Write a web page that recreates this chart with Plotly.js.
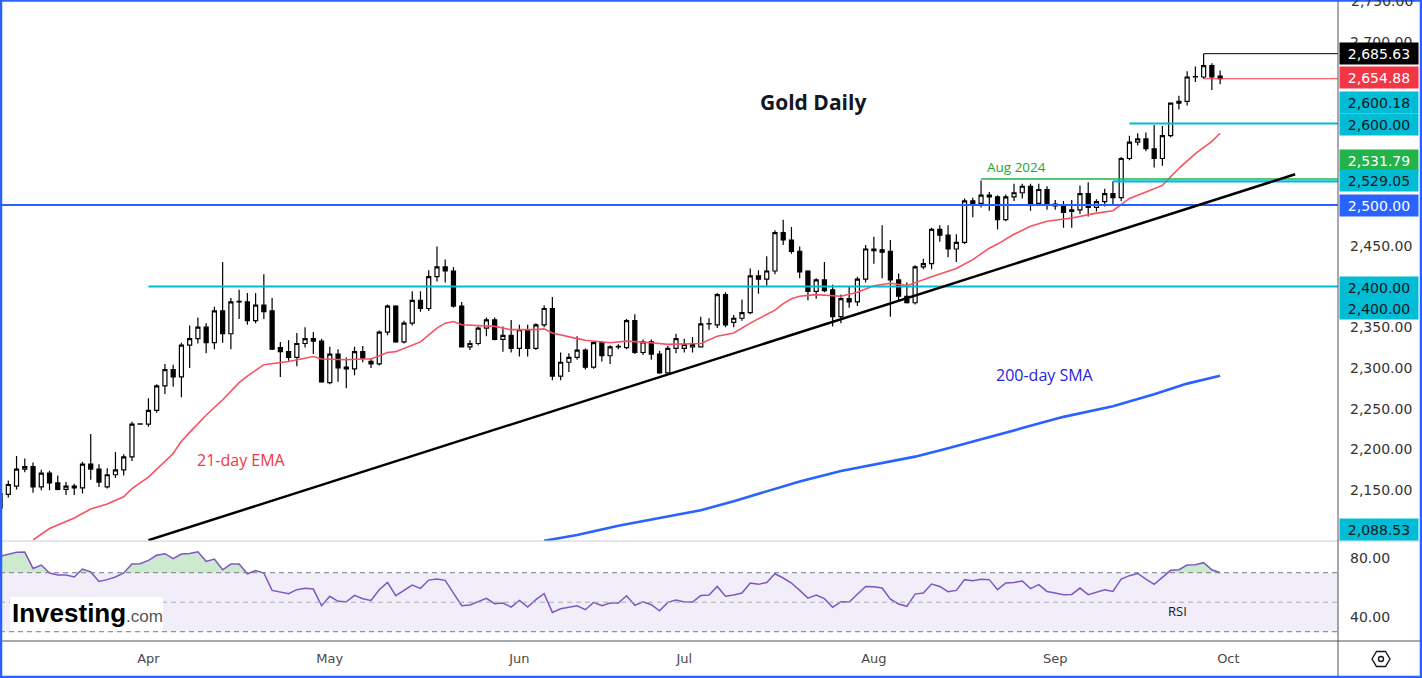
<!DOCTYPE html>
<html><head><meta charset="utf-8">
<script src="https://cdn.plot.ly/plotly-3.0.1.min.js"></script>
<style>html,body{margin:0;padding:0;background:#fff;}#chart{width:1422px;height:678px;}</style>
</head><body><div id="chart"></div>
<script>
// ---------- DATA ----------
const candleDates = ['03-06','03-07','03-08','03-11','03-12','03-13','03-14','03-15','03-18','03-19','03-20','03-21','03-22','03-25','03-26','03-27','03-28','03-29',
'04-01','04-02','04-03','04-04','04-05','04-08','04-09','04-10','04-11','04-12','04-15','04-16','04-17','04-18','04-19','04-22','04-23','04-24','04-25','04-26','04-29','04-30',
'05-01','05-02','05-03','05-06','05-07','05-08','05-09','05-10','05-13','05-14','05-15','05-16','05-17','05-20','05-21','05-22','05-23','05-24','05-27','05-28','05-29','05-30','05-31',
'06-03','06-04','06-05','06-06','06-07','06-10','06-11','06-12','06-13','06-14','06-17','06-18','06-19','06-20','06-21','06-24','06-25','06-26','06-27','06-28',
'07-01','07-02','07-03','07-04','07-05','07-08','07-09','07-10','07-11','07-12','07-15','07-16','07-17','07-18','07-19','07-22','07-23','07-24','07-25','07-26','07-29','07-30','07-31',
'08-01','08-02','08-05','08-06','08-07','08-08','08-09','08-12','08-13','08-14','08-15','08-16','08-19','08-20','08-21','08-22','08-23','08-26','08-27','08-28','08-29','08-30',
'09-02','09-03','09-04','09-05','09-06','09-09','09-10','09-11','09-12','09-13','09-16','09-17','09-18','09-19','09-20','09-23','09-24','09-25','09-26','09-27','09-30'];

const openP = [2128,2145,2155,2176,2179,2154,2171,2159,2151,2155,2153,2182,2176,2154,2169,2175,2191,2231,
2231,2248,2278,2298,2289,2328,2336,2350,2331,2370,2342,2381,2381,2358,2377,2370,2325,2320,2313,2330,2336,2333,
2282,2317,2301,2299,2320,2308,2305,2344,2376,2332,2355,2383,2373,2412,2424,2419,2376,2326,2330,2349,2359,2335,2340,
2324,2347,2324,2353,2373,2290,2307,2313,2322,2301,2331,2315,2326,2325,2358,2319,2332,2317,2294,2324,
2324,2326,2326,2354,2353,2390,2356,2361,2368,2413,2409,2419,2466,2457,2443,2419,2394,2408,2396,2363,2385,2381,2409,
2446,2445,2443,2408,2388,2380,2424,2428,2470,2463,2446,2454,2505,2502,2512,2510,2482,2510,2515,2523,2502,2519,
2499,2498,2492,2494,2514,2497,2504,2514,2509,2557,2577,2581,2569,2557,2585,2625,2627,2657,2657,2671,2658];

const highP = [2152,2162,2192,2189,2184,2175,2174,2168,2160,2158,2185,2219,2182,2177,2197,2194,2234,2231.8,
2263,2280,2305,2304,2331,2352,2362,2355,2375,2430,2386,2396,2392,2392,2415,2386,2332,2334,2343,2350,2344,2336,
2326,2323,2313,2326,2327,2312,2346,2378,2377,2358,2394,2394,2420,2449,2433,2424,2381,2334,2351,2362,2362,2351,2359,
2353,2353,2355,2377,2387,2319,2318,2339,2324,2333,2333,2328,2329,2360,2366,2335,2335,2321,2327,2342,
2336,2338,2363,2361,2392,2393,2365,2384,2422,2420,2437,2469,2482,2473,2449,2420,2410,2430,2402,2390,2400,2412,2451,
2461,2475,2457,2416,2405,2426,2434,2472,2475,2475,2464,2508,2509,2530,2516,2512,2513,2526,2526,2526,2526,2523,
2506,2505,2506,2524,2528,2507,2520,2529,2559,2585,2588,2589,2598,2597,2625,2634,2664,2670,2685.63,2674,2665];

const lowP = [2124,2141,2151,2172,2147,2150,2150,2150,2144,2144,2146,2163,2154,2152,2165,2168,2186,2230.6,
2228,2245,2268,2277,2264,2300,2330,2318,2323,2331,2323,2360,2353,2355,2360,2322,2289,2309,2302,2325,2317,2282,
2280,2283,2275,2291,2307,2300,2303,2340,2331,2330,2352,2369,2370,2406,2405,2374,2326,2322,2328,2339,2334,2320,2319,
2314,2314,2322,2350,2285,2285,2295,2310,2298,2299,2308,2305,2323,2323,2317,2316,2310,2293,2293,2318,
2319,2319,2325,2347,2349,2350,2350,2358,2366,2391,2401,2415,2451,2440,2410,2383,2385,2393,2351,2355,2374,2376,2405,
2428,2410,2363,2383,2379,2378,2421,2421,2455,2436,2430,2452,2485,2497,2493,2470,2480,2505,2508,2493,2500,2494,
2494,2472,2472,2489,2486,2492,2498,2500,2505,2555,2573,2566,2546,2548,2583,2617,2622,2651,2655,2641,2648];

const closeP = [2146,2157,2176,2179,2154,2171,2159,2151,2155,2153,2182,2176,2160,2169,2175,2191,2231,2231.3,
2248,2278,2298,2289,2328,2336,2350,2331,2370,2342,2381,2381.6,2358,2377,2369,2323,2320,2313,2330,2336,2333,2283,
2317,2300,2299,2320,2312,2305,2344,2376,2332,2355,2383,2373,2412,2424,2419,2376,2326,2330,2349,2359,2335,2340,2324,
2347,2324,2353,2373,2290,2307,2313,2322,2301,2331,2315,2326,2326.6,2358,2319,2332,2317,2294,2324,2336,
2329,2329,2354,2354.6,2390,2353,2361,2368,2413,2409,2419,2466,2457,2443,2418,2394,2408,2395,2363,2385,2381,2409,2446,
2444,2442,2408,2388,2380,2424,2428,2470,2463,2446,2454,2505,2502,2512,2510,2482,2510,2515,2523,2502,2519,2502,
2501,2491,2494,2514,2497,2504,2514,2509,2557,2577,2581,2569,2557,2585,2625,2627,2657,2657.6,2671,2657,2654.88];

const rsiValues = [81.1,82.5,83.8,84.0,72.9,75.2,69.8,68.4,68.4,67.1,72.5,70.5,64.1,65.3,67.1,69.8,75.9,76.1,
78.4,81.8,82.9,79.5,82.7,83.1,84.2,77.7,79.3,72.0,75.9,75.9,69.3,71.4,69.8,58.0,57.1,55.8,58.5,59.4,58.9,47.6,
54.0,50.6,50.3,54.6,52.4,51.2,58.5,63.4,54.4,58.0,61.6,59.4,65.0,65.7,64.8,56.2,47.6,48.1,50.6,52.6,49.0,49.4,46.7,
51.2,46.7,51.7,55.8,43.1,45.6,46.5,47.6,44.9,49.9,47.6,49.4,49.4,54.4,47.9,50.3,48.3,44.2,49.9,51.5,
50.1,50.1,54.5,54.9,60.7,54.0,54.9,56.2,63.0,62.1,63.4,69.3,66.4,63.0,58.0,52.8,54.9,52.4,46.5,50.3,50.1,55.5,60.7,
60.5,59.6,52.1,48.8,47.2,55.5,56.2,62.3,60.7,57.1,58.0,65.3,64.6,65.5,65.3,58.5,63.0,63.4,64.4,59.2,61.9,57.3,
56.2,55.1,55.3,59.6,55.1,56.9,58.5,57.3,65.7,68.0,69.5,65.7,62.1,66.8,71.6,72.0,75.2,75.4,76.8,72.0,70.0];

const emaDates = ['03-12','03-14','03-19','03-21','03-25','03-27','03-28','04-01','04-04','04-05','04-08','04-10','04-12','04-16','04-17','04-19','04-24','04-29','04-30','05-03','05-07','05-08','05-10','05-13','05-16','05-20','05-21','05-22','05-23','05-28','05-29','05-31','06-05','06-06','06-07','06-12','06-13','06-18','06-20','06-25','06-27','07-03','07-05','07-09','07-11','07-16','07-17','07-18','07-19','07-23','07-26','07-30','08-01','08-05','08-07','08-12','08-15','08-19','08-21','08-22','08-26','08-28','08-30','09-04','09-09','09-11','09-13','09-17','09-19','09-23','09-25','09-27','09-30'];
const emaValues = [2089,2103,2116,2127,2133,2142,2152,2166,2195,2210,2221,2242,2261,2282,2290,2304,2308,2314,2311,2310,2311,2311,2319,2320,2332,2349,2355,2357,2353,2351,2351,2347,2347,2348,2343,2336,2334,2331,2333,2331,2329,2330,2339,2343,2355,2371,2379,2385,2388,2390,2388,2393,2401,2404,2401,2412,2422,2433,2447,2452,2464,2474,2480,2484,2490,2493,2508,2516,2524,2545,2563,2578,2588];

const smaDates = ['06-06','06-12','06-19','06-26','07-03','07-09','07-15','07-19','07-26','08-05','08-08','08-14','08-19','08-27','09-03','09-11','09-18','09-24','09-30'];
const smaValues = [2088,2095,2106.5,2115.5,2125.4,2136.5,2148.2,2160.8,2173.6,2185.5,2191.2,2201.5,2210,2226.2,2240,2253,2267.7,2280.8,2290.6];

const monthTickDates = ['04-01','05-01','06-03','07-01','08-01','09-02','10-01'];
const monthLabels = ['Apr','May','Jun','Jul','Aug','Sep','Oct'];

// price-axis tick values left visible (others sit under the price tags)
const priceTicks = [2150, 2200, 2250, 2300, 2350, 2450, 2700];
const edgeTick = 2750; // partly cut at the top edge

// horizontal levels drawn on the chart
const levelPrices = [2400, 2500, 2600, 2531.79, 2529.05, 2685.63, 2654.88];
const levelStarts = ['04-01','03-05','09-13','08-20','09-11','09-26','09-26'];
// trend line (support)
const trendDates = ['2024-04-01', '2024-10-11 02:24'];
const trendPrices = [2088.7, 2537.7];

// right-axis price tags
const tagValues = [2685.63, 2654.88, 2600.18, 2600.00, 2531.79, 2529.05, 2500.00, 2400.00, 2400.00, 2088.53];

// ---------- STYLE / LAYOUT ----------
const W = 1338, H = 641;
const px = v => v / W;
const py = v => (H - v) / H;
const full = a => a.map(d => d.length > 5 ? d : '2024-' + d);
const X_START = '2024-03-05 23:50', X_END = '2024-10-18 07:12';
const AX_FONT = 'DejaVu Sans';
const fmt = v => v.toLocaleString('en-US', {minimumFractionDigits:2, maximumFractionDigits:2});

const traces = [];
traces.push({type:'candlestick', x: full(candleDates), open: openP, high: highP, low: lowP, close: closeP,
  xaxis:'x', yaxis:'y', whiskerwidth:0, hoverinfo:'skip',
  increasing:{line:{color:'#000000', width:1.2}, fillcolor:'#ffffff'},
  decreasing:{line:{color:'#000000', width:1.2}, fillcolor:'#000000'}});
traces.push({type:'scatter', mode:'lines', x: full(emaDates), y: emaValues, yaxis:'y', line:{color:'#f7525f', width:1.6}, hoverinfo:'skip'});
traces.push({type:'scatter', mode:'lines', x: full(smaDates), y: smaValues, yaxis:'y', line:{color:'#2962ff', width:2.6}, hoverinfo:'skip'});
const rsiX = full(candleDates);
traces.push({type:'scatter', mode:'lines', x: rsiX, y: rsiX.map(() => 70), yaxis:'y2', line:{width:0, color:'rgba(0,0,0,0)'}, hoverinfo:'skip'});
traces.push({type:'scatter', mode:'lines', x: rsiX, y: rsiValues.map(v => Math.max(v, 70)), yaxis:'y2', fill:'tonexty', fillcolor:'rgba(76,175,80,0.28)', line:{width:0, color:'rgba(0,0,0,0)'}, hoverinfo:'skip'});
traces.push({type:'scatter', mode:'lines', x: rsiX, y: rsiValues, yaxis:'y2', line:{color:'#7e57c2', width:1.5}, hoverinfo:'skip'});

const shapes = [];
shapes.push({type:'rect', xref:'paper', yref:'y2', x0:0, x1:1, y0:30, y1:70, fillcolor:'rgba(126,87,194,0.10)', line:{width:0}, layer:'below'});
[[70,'#787b86'],[50,'#a8abb4'],[30,'#787b86']].forEach(([v,c]) => shapes.push({type:'line', xref:'paper', yref:'y2', x0:0, x1:1, y0:v, y1:v, line:{color:c, width:1, dash:'5px,4px'}}));

const levelStyles = [
  {color:'#00bcd4', width:2}, {color:'#2962ff', width:2}, {color:'#00bcd4', width:2},
  {color:'#22b34a', width:1.5}, {color:'#00bcd4', width:2.2}, {color:'#000000', width:1}, {color:'#f23645', width:1}];
levelPrices.forEach((p, i) => {
  shapes.push({type:'line', xref:'x', yref:'y', x0:'2024-' + levelStarts[i], x1: X_END, y0:p, y1:p, line: levelStyles[i]});
});
shapes.push({type:'line', xref:'x', yref:'y', x0:trendDates[0], x1:trendDates[1], y0:trendPrices[0], y1:trendPrices[1], line:{color:'#000000', width:2.5}});

shapes.push({type:'line', xref:'paper', yref:'paper', x0:0, x1:px(1422), y0:py(541), y1:py(541), line:{color:'#c9ccd4', width:1}});
shapes.push({type:'line', xref:'paper', yref:'paper', x0:0, x1:px(1422), y0:py(641), y1:py(641), line:{color:'#50535e', width:1}});
shapes.push({type:'line', xref:'paper', yref:'paper', x0:px(1338), x1:px(1338), y0:py(678), y1:py(0), line:{color:'#50535e', width:1}});
shapes.push({type:'rect', xref:'paper', yref:'paper', x0:px(1), x1:px(1421), y0:py(677), y1:py(0.5), line:{color:'#2962ff', width:2.5}, fillcolor:'rgba(0,0,0,0)'});
shapes.push({type:'rect', xref:'paper', yref:'paper', x0:px(10), x1:px(163), y0:py(631), y1:py(597), fillcolor:'#ffffff', line:{width:0}, layer:'above'});
const hex = [[1372,659],[1376.5,651.5],[1385.5,651.5],[1390,659],[1385.5,666.5],[1376.5,666.5]];
shapes.push({type:'path', xref:'paper', yref:'paper', path: 'M' + hex.map(p => px(p[0]) + ',' + py(p[1])).join(' L') + ' Z', line:{color:'#131722', width:1.4}});
shapes.push({type:'circle', xref:'paper', yref:'paper', x0:px(1378.5), x1:px(1383.5), y0:py(661.5), y1:py(656.5), line:{color:'#131722', width:1.4}});

const annotations = [];
const txt = (text, x, y, size, color, family, xanchor) => ({text, xref:'paper', yref:'paper', x:px(x), y:py(y), showarrow:false,
  xanchor: xanchor || 'center', yanchor:'middle', font:{family: family || 'Open Sans', size, color}});
annotations.push(txt('<b>Gold Daily</b>', 813, 102, 21, '#131722'));
annotations.push(txt('21-day EMA', 241, 460, 16, '#f23645'));
annotations.push(txt('200-day SMA', 1045, 375, 16, '#2424e6'));
annotations.push(txt('Aug 2024', 1016, 167, 13.5, '#22a82e'));
annotations.push(txt('RSI', 1177, 611, 13, '#131722'));
annotations.push(txt('<b>Investing</b>', 10, 613, 26, '#000000', 'Liberation Sans', 'left'));
annotations.push(txt('.com', 124, 616, 17, '#555555', 'Liberation Sans', 'left'));
// partly visible top tick label of the price scale
annotations.push({text: fmt(edgeTick), xref:'paper', yref:'y', x:px(1349), y:edgeTick, xanchor:'left', yanchor:'middle', showarrow:false,
  font:{family:AX_FONT, size:14, color:'#333333'}});

const tagY = [53, 78, 102, 124, 160, 181, 205, 287, 309, 529];
const tagBg = ['#000000','#f23645','#00bcd4','#00bcd4','#22b34a','#00bcd4','#2962ff','#00bcd4','#00bcd4','#00bcd4'];
const tagFg = ['#ffffff','#ffffff','#131722','#131722','#ffffff','#131722','#ffffff','#131722','#131722','#131722'];
tagValues.forEach((v, i) => {
  annotations.push({text: fmt(v), xref:'paper', yref:'paper', x:px(1339), y:py(tagY[i]), xanchor:'left', yanchor:'middle', showarrow:false,
    width:76, height:19, align:'center', bgcolor:tagBg[i], borderpad:1,
    font:{family:AX_FONT, size:14, color:tagFg[i]}});
});

const layout = {
  width:1422, height:678, margin:{l:0, r:84, t:0, b:37}, paper_bgcolor:'#ffffff', plot_bgcolor:'#ffffff',
  showlegend:false, hovermode:false,
  xaxis:{type:'date', range:[X_START, X_END], rangebreaks:[{bounds:['sat','mon']}], rangeslider:{visible:false},
    tickvals: full(monthTickDates), ticktext: monthLabels, showgrid:false, zeroline:false, showline:false, ticks:'',
    tickfont:{family:AX_FONT, size:13, color:'#4a4a4a'}, anchor:'y2', ticklabelstandoff:8, fixedrange:true},
  yaxis:{domain:[100/641, 1], range:[2087.7, 2751.5], side:'right', anchor:'x', tickvals: priceTicks, tickformat:',.2f',
    showgrid:false, zeroline:false, showline:false, ticks:'', ticklabelstandoff:11,
    tickfont:{family:AX_FONT, size:14, color:'#333333'}, fixedrange:true},
  yaxis2:{domain:[0, 100/641], range:[23.7, 91.5], side:'right', anchor:'x', tickvals:[40, 80], ticktext:['40.00','80.00'],
    showgrid:false, zeroline:false, showline:false, ticks:'', ticklabelstandoff:11,
    tickfont:{family:AX_FONT, size:14, color:'#333333'}, fixedrange:true},
  shapes, annotations
};

Plotly.newPlot('chart', traces, layout, {staticPlot:true, displayModeBar:false});
</script></body></html>
